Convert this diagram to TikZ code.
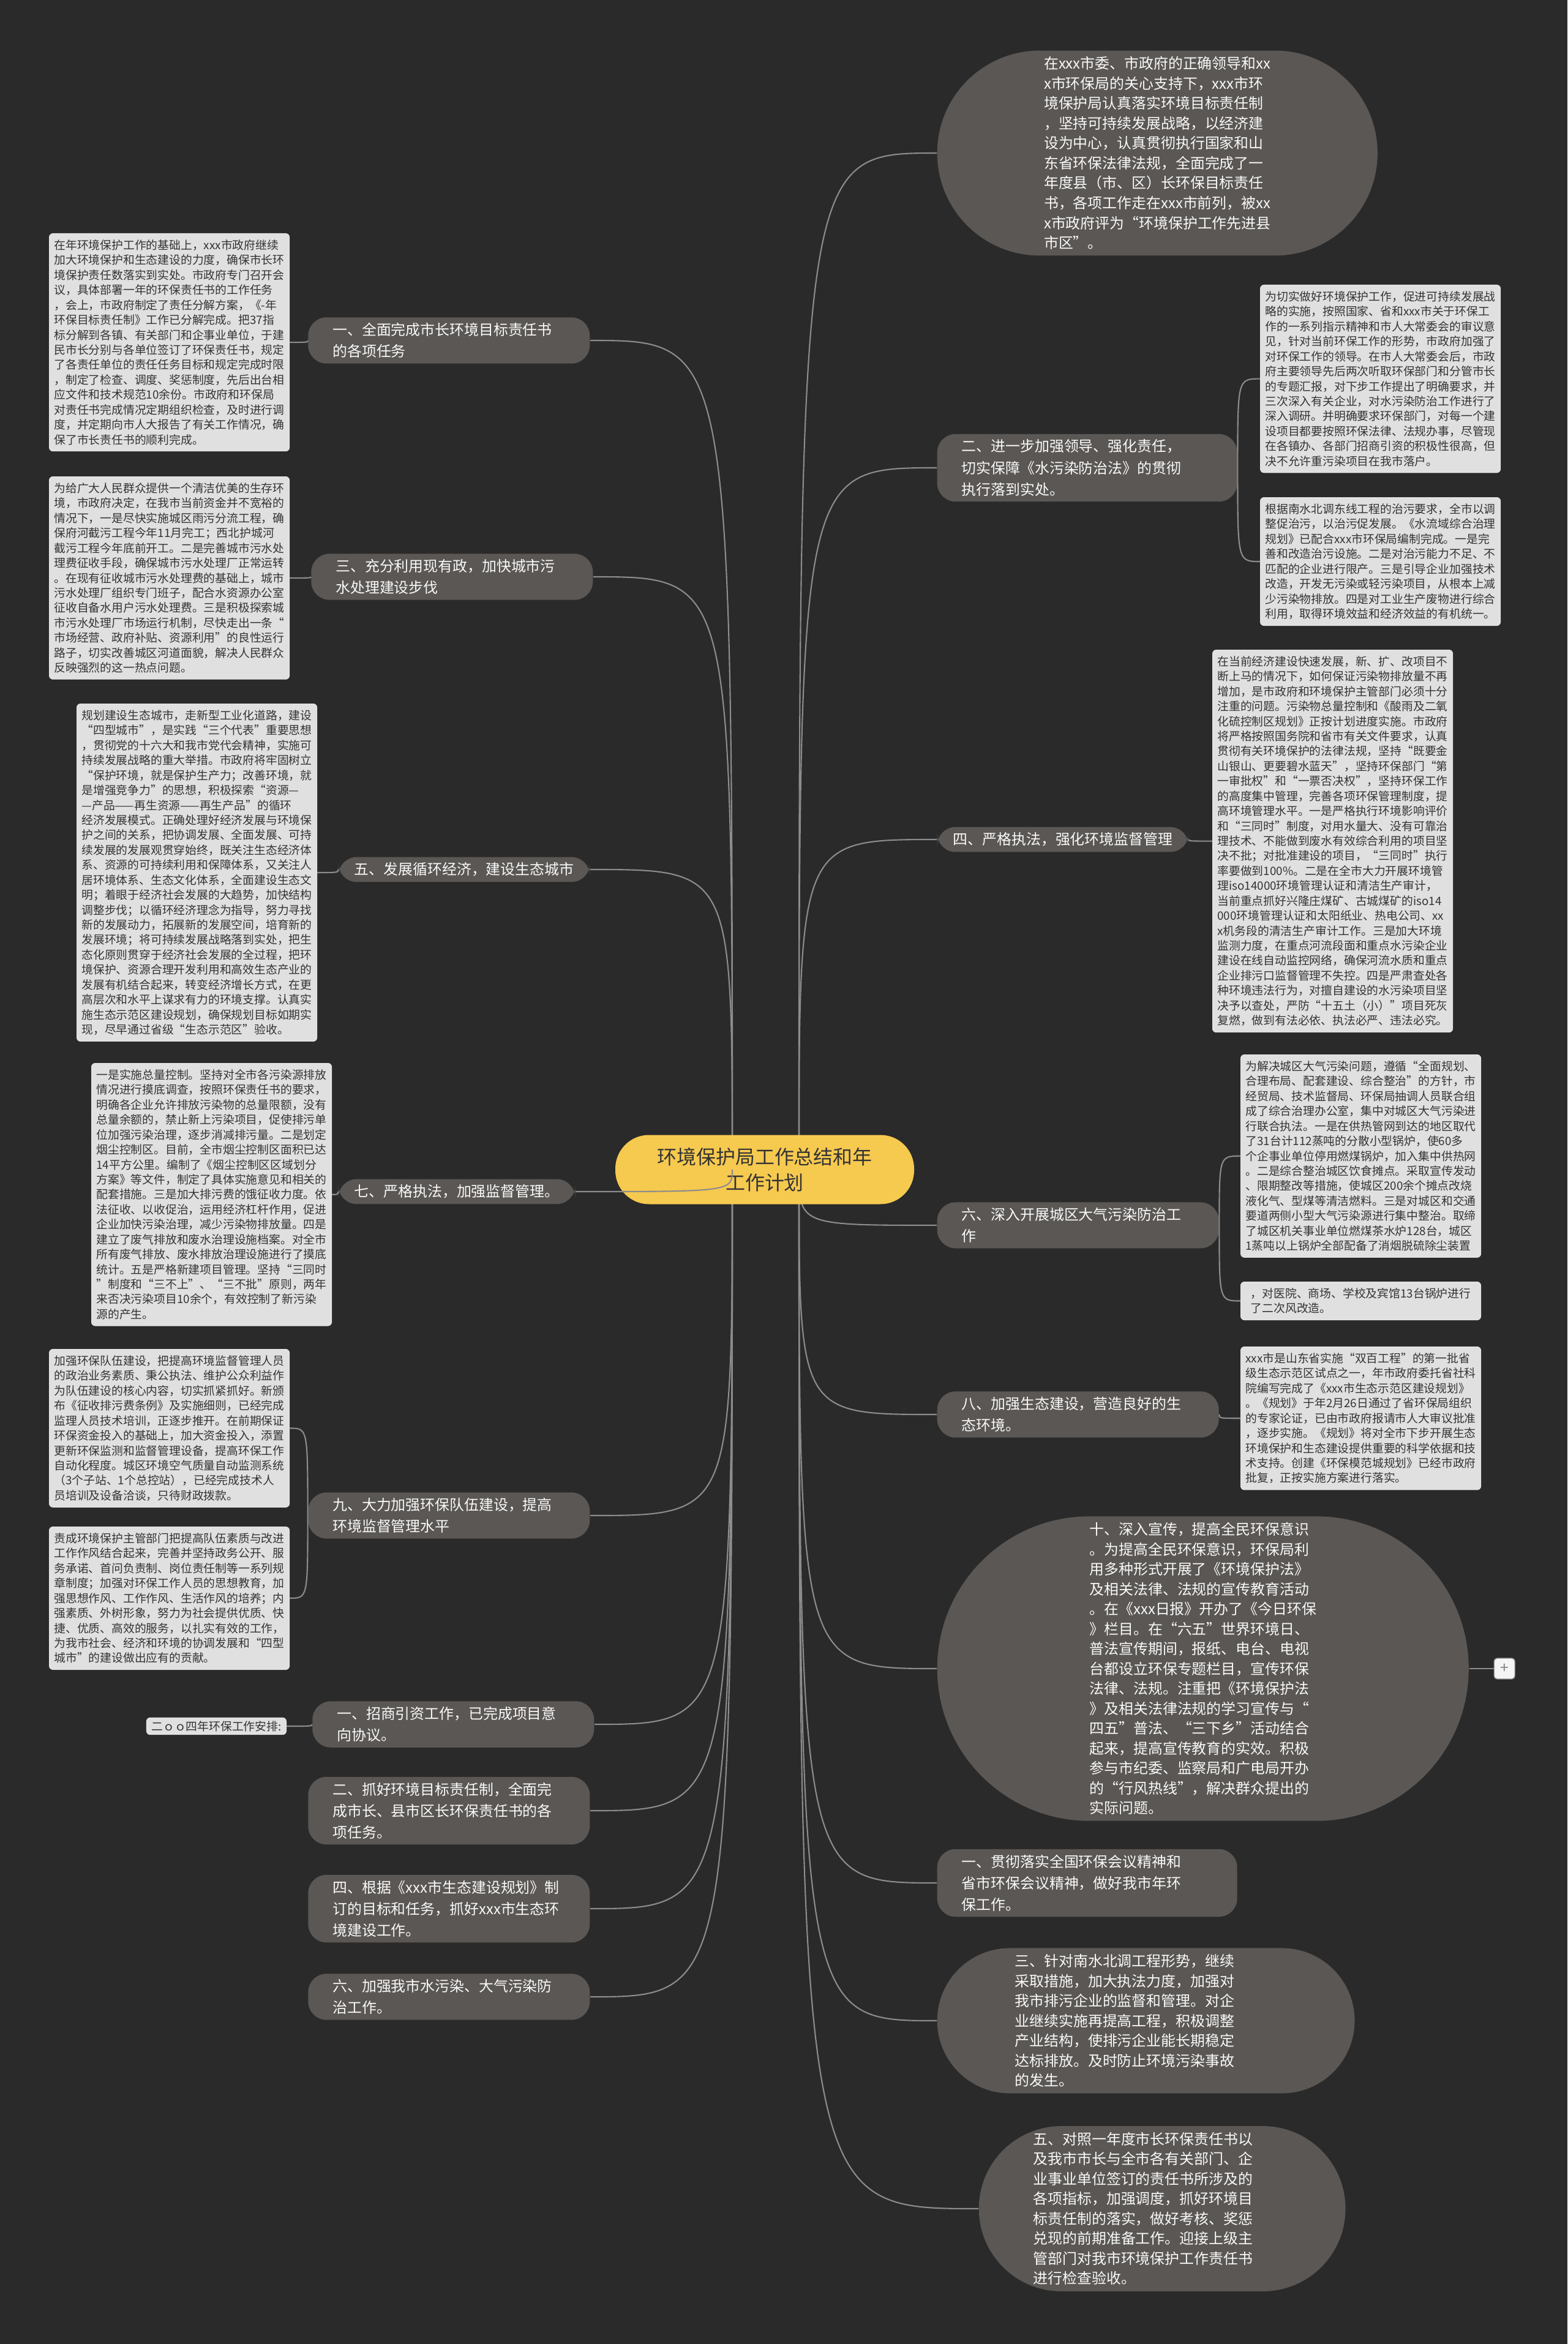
\documentclass[tikz,border=0pt]{standalone}
\usepackage{fontspec}
\setmainfont{Noto Sans CJK SC}
\usepackage{tikz}
\usetikzlibrary{positioning,shapes.misc}
\definecolor{fond}{HTML}{2A2A2A}
\definecolor{bulle}{HTML}{5A5754}
\definecolor{boite}{HTML}{E0E0E0}
\definecolor{trait}{HTML}{8C8C8C}
\definecolor{jaune}{HTML}{F6C94F}
\definecolor{encre}{HTML}{333333}

\begin{document}
\begin{tikzpicture}[
    detail/.style={rectangle,rounded corners=0.06cm,draw=white!80!gray,line width=0.3pt,fill=boite,text=encre,align=left,inner xsep=0.08cm,inner ysep=0.1cm,minimum width=3.92cm,font=\fontsize{5.35}{6.95}\selectfont},
    topic/.style={rectangle,rounded corners=0.3cm,fill=bulle,text=white!95!gray,align=left,inner xsep=0.26cm,inner ysep=0.09cm,font=\fontsize{6.8}{10}\selectfont},
    topicw/.style={topic,inner xsep=0.4cm,text width=3.8cm},
    bulle/.style={rounded rectangle,fill=bulle,text=white!95!gray,align=left,inner xsep=0.05cm,inner ysep=0.1cm,font=\fontsize{6.8}{9.25}\selectfont},
    racine/.style={rectangle,rounded corners=0.55cm,fill=jaune,text=encre,align=center,minimum width=4.88cm,minimum height=1.13cm,font=\fontsize{9.1}{11.8}\selectfont},
    repli/.style={rectangle,rounded corners=0.05cm,draw=trait,fill=white!92!gray,text=gray,minimum size=0.34cm,inner sep=0pt,font=\fontsize{7}{7}\selectfont},
    lien/.style={draw=trait,line width=0.6pt,to path={.. controls (\tikztostart |- \tikztotarget) .. (\tikztotarget)}}]

% Fond
\fill[fond] (0,0) rectangle (25.6,-38.28);
\useasboundingbox (0,0) rectangle (25.6,-38.28);

\coordinate (rootL) at (11.96,-19.10);
\coordinate (rootR) at (13.05,-19.10);

% Branches gauches
\node[topicw,anchor=east] (LB1) at (9.64,-5.56) {一、全面完成市长环境目标责任书\\的各项任务};
\node[topicw,anchor=east] (LB3) at (9.69,-9.42) {三、充分利用现有政，加快城市污\\水处理建设步伐};
\node[topic,anchor=east] (LB5) at (9.64,-14.20) {五、发展循环经济，建设生态城市};
\node[topic,anchor=east] (LB7) at (9.40,-19.46) {七、严格执法，加强监督管理。};
\node[topicw,anchor=east] (LB9) at (9.64,-24.75) {九、大力加强环保队伍建设，提高\\环境监督管理水平};
\node[topicw,anchor=east] (LB11) at (9.71,-28.16) {一、招商引资工作，已完成项目意\\向协议。};
\node[topicw,anchor=east] (LB12) at (9.64,-29.57) {二、抓好环境目标责任制，全面完\\成市长、县市区长环保责任书的各\\项任务。};
\node[topicw,anchor=east] (LB13) at (9.64,-31.17) {四、根据《xxx市生态建设规划》制\\订的目标和任务，抓好xxx市生态环\\境建设工作。};
\node[topicw,anchor=east] (LB14) at (9.64,-32.61) {六、加强我市水污染、大气污染防\\治工作。};

% Details gauches
\node[detail,anchor=north west] (L1d) at (0.80,-3.81) {在年环境保护工作的基础上，xxx市政府继续\\
加大环境保护和生态建设的力度，确保市长环\\
境保护责任数落实到实处。市政府专门召开会\\
议，具体部署一年的环保责任书的工作任务\\
，会上，市政府制定了责任分解方案，《-年\\
环保目标责任制》工作已分解完成。把37指\\
标分解到各镇、有关部门和企事业单位，于建\\
民市长分别与各单位签订了环保责任书，规定\\
了各责任单位的责任任务目标和规定完成时限\\
，制定了检查、调度、奖惩制度，先后出台相\\
应文件和技术规范10余份。市政府和环保局\\
对责任书完成情况定期组织检查，及时进行调\\
度，并定期向市人大报告了有关工作情况，确\\
保了市长责任书的顺利完成。};
\node[detail,anchor=north west] (L3d) at (0.80,-7.78) {为给广大人民群众提供一个清洁优美的生存环\\
境，市政府决定，在我市当前资金并不宽裕的\\
情况下，一是尽快实施城区雨污分流工程，确\\
保府河截污工程今年11月完工；西北护城河\\
截污工程今年底前开工。二是完善城市污水处\\
理费征收手段，确保城市污水处理厂正常运转\\
。在现有征收城市污水处理费的基础上，城市\\
污水处理厂组织专门班子，配合水资源办公室\\
征收自备水用户污水处理费。三是积极探索城\\
市污水处理厂市场运行机制，尽快走出一条“\\
市场经营、政府补贴、资源利用”的良性运行\\
路子，切实改善城区河道面貌，解决人民群众\\
反映强烈的这一热点问题。};
\node[detail,anchor=north west] (L5d) at (1.25,-11.49) {规划建设生态城市，走新型工业化道路，建设\\
“四型城市”，是实践“三个代表”重要思想\\
，贯彻党的十六大和我市党代会精神，实施可\\
持续发展战略的重大举措。市政府将牢固树立\\
“保护环境，就是保护生产力；改善环境，就\\
是增强竞争力”的思想，积极探索“资源—\\
—产品——再生资源——再生产品”的循环\\
经济发展模式。正确处理好经济发展与环境保\\
护之间的关系，把协调发展、全面发展、可持\\
续发展的发展观贯穿始终，既关注生态经济体\\
系、资源的可持续利用和保障体系，又关注人\\
居环境体系、生态文化体系，全面建设生态文\\
明；着眼于经济社会发展的大趋势，加快结构\\
调整步伐；以循环经济理念为指导，努力寻找\\
新的发展动力，拓展新的发展空间，培育新的\\
发展环境；将可持续发展战略落到实处，把生\\
态化原则贯穿于经济社会发展的全过程，把环\\
境保护、资源合理开发利用和高效生态产业的\\
发展有机结合起来，转变经济增长方式，在更\\
高层次和水平上谋求有力的环境支撑。认真实\\
施生态示范区建设规划，确保规划目标如期实\\
现，尽早通过省级“生态示范区”验收。};
\node[detail,anchor=north west] (L7d) at (1.49,-17.36) {一是实施总量控制。坚持对全市各污染源排放\\
情况进行摸底调查，按照环保责任书的要求，\\
明确各企业允许排放污染物的总量限额，没有\\
总量余额的，禁止新上污染项目，促使排污单\\
位加强污染治理，逐步消减排污量。二是划定\\
烟尘控制区。目前，全市烟尘控制区面积已达\\
14平方公里。编制了《烟尘控制区区域划分\\
方案》等文件，制定了具体实施意见和相关的\\
配套措施。三是加大排污费的饿征收力度。依\\
法征收、以收促治，运用经济杠杆作用，促进\\
企业加快污染治理，减少污染物排放量。四是\\
建立了废气排放和废水治理设施档案。对全市\\
所有废气排放、废水排放治理设施进行了摸底\\
统计。五是严格新建项目管理。坚持“三同时\\
”制度和“三不上”、“三不批”原则，两年\\
来否决污染项目10余个，有效控制了新污染\\
源的产生。};
\node[detail,anchor=north west] (L9da) at (0.80,-22.03) {加强环保队伍建设，把提高环境监督管理人员\\
的政治业务素质、秉公执法、维护公众利益作\\
为队伍建设的核心内容，切实抓紧抓好。新颁\\
布《征收排污费条例》及实施细则，已经完成\\
监理人员技术培训，正逐步推开。在前期保证\\
环保资金投入的基础上，加大资金投入，添置\\
更新环保监测和监督管理设备，提高环保工作\\
自动化程度。城区环境空气质量自动监测系统\\
（3个子站、1个总控站），已经完成技术人\\
员培训及设备洽谈，只待财政拨款。};
\node[detail,anchor=north west] (L9db) at (0.80,-24.93) {责成环境保护主管部门把提高队伍素质与改进\\
工作作风结合起来，完善并坚持政务公开、服\\
务承诺、首问负责制、岗位责任制等一系列规\\
章制度；加强对环保工作人员的思想教育，加\\
强思想作风、工作作风、生活作风的培养；内\\
强素质、外树形象，努力为社会提供优质、快\\
捷、优质、高效的服务，以扎实有效的工作，\\
为我市社会、经济和环境的协调发展和“四型\\
城市”的建设做出应有的贡献。};
\node[detail,minimum width=0pt,inner ysep=0.05cm,anchor=east] (lab04) at (4.68,-28.19) {二ｏｏ四年环保工作安排:};

% Branches droites
\node[bulle,inner xsep=0.64cm,anchor=west] (RB0) at (15.30,-2.50) {在xxx市委、市政府的正确领导和xx\\
x市环保局的关心支持下，xxx市环\\
境保护局认真落实环境目标责任制\\
，坚持可持续发展战略，以经济建\\
设为中心，认真贯彻执行国家和山\\
东省环保法律法规，全面完成了一\\
年度县（市、区）长环保目标责任\\
书，各项工作走在xxx市前列，被xx\\
x市政府评为“环境保护工作先进县\\
市区”。};
\node[topicw,text width=4.1cm,anchor=west] (RB2) at (15.30,-7.64) {二、进一步加强领导、强化责任，\\切实保障《水污染防治法》的贯彻\\执行落到实处。};
\node[topic,anchor=west] (RB4) at (15.30,-13.71) {四、严格执法，强化环境监督管理};
\node[topicw,anchor=west] (RB6) at (15.30,-20.01) {六、深入开展城区大气污染防治工\\作};
\node[topicw,anchor=west] (RB8) at (15.30,-23.10) {八、加强生态建设，营造良好的生\\态环境。};
\node[bulle,inner xsep=0.7cm,anchor=west] (RB10) at (15.30,-27.25) {十、深入宣传，提高全民环保意识\\
。为提高全民环保意识，环保局利\\
用多种形式开展了《环境保护法》\\
及相关法律、法规的宣传教育活动\\
。在《xxx日报》开办了《今日环保\\
》栏目。在“六五”世界环境日、\\
普法宣传期间，报纸、电台、电视\\
台都设立环保专题栏目，宣传环保\\
法律、法规。注重把《环境保护法\\
》及相关法律法规的学习宣传与“\\
四五”普法、“三下乡”活动结合\\
起来，提高宣传教育的实效。积极\\
参与市纪委、监察局和广电局开办\\
的“行风热线”，解决群众提出的\\
实际问题。};
\node[repli,right=0.4cm of RB10] (pli) {+};
\node[topicw,text width=4.1cm,anchor=west] (RB1b) at (15.30,-30.75) {一、贯彻落实全国环保会议精神和\\省市环保会议精神，做好我市年环\\保工作。};
\node[bulle,inner xsep=0.56cm,text width=4.28cm,anchor=west] (RB3) at (15.30,-33.00) {三、针对南水北调工程形势，继续\\
采取措施，加大执法力度，加强对\\
我市排污企业的监督和管理。对企\\
业继续实施再提高工程，积极调整\\
产业结构，使排污企业能长期稳定\\
达标排放。及时防止环境污染事故\\
的发生。};
\node[bulle,text width=4.21cm,anchor=west] (RB5) at (15.98,-36.07) {五、对照一年度市长环保责任书以\\
及我市市长与全市各有关部门、企\\
业事业单位签订的责任书所涉及的\\
各项指标，加强调度，抓好环境目\\
标责任制的落实，做好考核、奖惩\\
兑现的前期准备工作。迎接上级主\\
管部门对我市环境保护工作责任书\\
进行检查验收。};

% Details droits
\node[detail,anchor=north west] (R2da) at (20.58,-4.65) {为切实做好环境保护工作，促进可持续发展战\\
略的实施，按照国家、省和xxx市关于环保工\\
作的一系列指示精神和市人大常委会的审议意\\
见，针对当前环保工作的形势，市政府加强了\\
对环保工作的领导。在市人大常委会后，市政\\
府主要领导先后两次听取环保部门和分管市长\\
的专题汇报，对下步工作提出了明确要求，并\\
三次深入有关企业，对水污染防治工作进行了\\
深入调研。并明确要求环保部门，对每一个建\\
设项目都要按照环保法律、法规办事，尽管现\\
在各镇办、各部门招商引资的积极性很高，但\\
决不允许重污染项目在我市落户。};
\node[detail,anchor=north west] (R2db) at (20.58,-8.12) {根据南水北调东线工程的治污要求，全市以调\\
整促治污，以治污促发展。《水流域综合治理\\
规划》已配合xxx市环保局编制完成。一是完\\
善和改造治污设施。二是对治污能力不足、不\\
匹配的企业进行限产。三是引导企业加强技术\\
改造，开发无污染或轻污染项目，从根本上减\\
少污染物排放。四是对工业生产废物进行综合\\
利用，取得环境效益和经济效益的有机统一。};
\node[detail,anchor=north west] (R4d) at (19.80,-10.61) {在当前经济建设快速发展，新、扩、改项目不\\
断上马的情况下，如何保证污染物排放量不再\\
增加，是市政府和环境保护主管部门必须十分\\
注重的问题。污染物总量控制和《酸雨及二氧\\
化硫控制区规划》正按计划进度实施。市政府\\
将严格按照国务院和省市有关文件要求，认真\\
贯彻有关环境保护的法律法规，坚持“既要金\\
山银山、更要碧水蓝天”，坚持环保部门“第\\
一审批权”和“一票否决权”，坚持环保工作\\
的高度集中管理，完善各项环保管理制度，提\\
高环境管理水平。一是严格执行环境影响评价\\
和“三同时”制度，对用水量大、没有可靠治\\
理技术、不能做到废水有效综合利用的项目坚\\
决不批；对批准建设的项目，“三同时”执行\\
率要做到100\%。二是在全市大力开展环境管\\
理iso14000环境管理认证和清洁生产审计，\\
当前重点抓好兴隆庄煤矿、古城煤矿的iso14\\
000环境管理认证和太阳纸业、热电公司、xx\\
x机务段的清洁生产审计工作。三是加大环境\\
监测力度，在重点河流段面和重点水污染企业\\
建设在线自动监控网络，确保河流水质和重点\\
企业排污口监督管理不失控。四是严肃查处各\\
种环境违法行为，对擅自建设的水污染项目坚\\
决予以查处，严防“十五土（小）”项目死灰\\
复燃，做到有法必依、执法必严、违法必究。};
\node[detail,anchor=north west] (R6da) at (20.26,-17.22) {为解决城区大气污染问题，遵循“全面规划、\\
合理布局、配套建设、综合整治”的方针，市\\
经贸局、技术监督局、环保局抽调人员联合组\\
成了综合治理办公室，集中对城区大气污染进\\
行联合执法。一是在供热管网到达的地区取代\\
了31台计112蒸吨的分散小型锅炉，使60多\\
个企事业单位停用燃煤锅炉，加入集中供热网\\
。二是综合整治城区饮食摊点。采取宣传发动\\
、限期整改等措施，使城区200余个摊点改烧\\
液化气、型煤等清洁燃料。三是对城区和交通\\
要道两侧小型大气污染源进行集中整治。取缔\\
了城区机关事业单位燃煤茶水炉128台，城区\\
1蒸吨以上锅炉全部配备了消烟脱硫除尘装置};
\node[detail,anchor=north west] (R6db) at (20.26,-20.93) {，对医院、商场、学校及宾馆13台锅炉进行\\
了二次风改造。};
\node[detail,anchor=north west] (R8d) at (20.26,-21.99) {xxx市是山东省实施“双百工程”的第一批省\\
级生态示范区试点之一，年市政府委托省社科\\
院编写完成了《xxx市生态示范区建设规划》\\
。《规划》于年2月26日通过了省环保局组织\\
的专家论证，已由市政府报请市人大审议批准\\
，逐步实施。《规划》将对全市下步开展生态\\
环境保护和生态建设提供重要的科学依据和技\\
术支持。创建《环保模范城规划》已经市政府\\
批复，正按实施方案进行落实。};

% Liens
\foreach \b in {LB1,LB3,LB5,LB9,LB11,LB12,LB13,LB14}
  \draw[lien] (rootL) to (\b.east);
\foreach \b in {RB0,RB2,RB4,RB6,RB8,RB10,RB1b,RB3,RB5}
  \draw[lien] (rootR) to (\b.west);
\draw[lien] (LB1.west) to (L1d.east);
\draw[lien] (LB3.west) to (L3d.east);
\draw[lien] (LB5.west) to (L5d.east);
\draw[lien] (LB7.west) to (L7d.east);
\draw[lien] (LB9.west) to (L9da.east);
\draw[lien] (LB9.west) to (L9db.east);
\draw[lien] (LB11.west) to (lab04.east);
\draw[lien] (RB2.east) to (R2da.west);
\draw[lien] (RB2.east) to (R2db.west);
\draw[lien] (RB4.east) to (R4d.west);
\draw[lien] (RB6.east) to (R6da.west);
\draw[lien] (RB6.east) to (R6db.west);
\draw[lien] (RB8.east) to (R8d.west);
\draw[lien] (RB10.east) -- (pli.west);

% Noeud central
\node[racine] (centre) at (12.49,-19.10) {环境保护局工作总结和年\\工作计划};
\draw[lien] (rootL) to (LB7.east);

\end{tikzpicture}
\end{document}
